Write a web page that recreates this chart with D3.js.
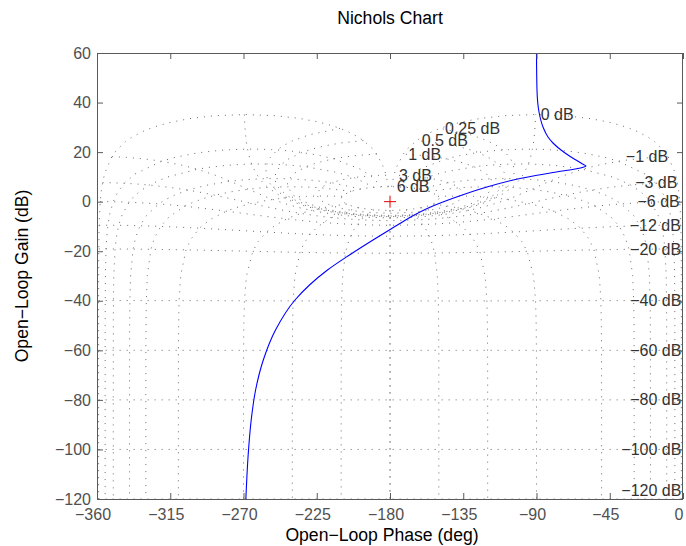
<!DOCTYPE html>
<html><head><meta charset="utf-8">
<script src="https://cdn.jsdelivr.net/npm/d3@7"></script>
<style>
body{margin:0;background:#fff}
svg{display:block}
text{font-family:"Liberation Sans",Arial,Helvetica,sans-serif}
</style>
</head><body>
<svg id="chart" width="686" height="546"></svg>
<script>
// ---- data ----
const xTicks = [-360, -315, -270, -225, -180, -135, -90, -45, 0];
const yTicks = [60, 40, 20, 0, -20, -40, -60, -80, -100, -120];
// closed-loop phase contours (deg) and the closed-loop gains they are sampled at (dB)
const isoPhaseValues = [1, 5, 10, 20, 30, 50, 90, 120, 150, 180];
const isoPhaseGains = [6, 3, 2, 1, .75, .5, .4, .3, .25, .2, .15, .1, .05, 0, -.05, -.1, -.15, -.2, -.25, -.3, -.4, -.5, -.75, -1, -2, -3, -4, -5, -6, -9, -12, -16, -20, -30, -40, -50, -60, -70, -80, -90, -100, -110, -120];
// closed-loop gain contours (dB) and the closed-loop phases they are sampled at (deg)
const isoGainValues = [6, 3, 1, .5, .25, 0, -1, -3, -6, -12, -20, -40, -60, -80, -100, -120];
const isoGainPhases = [1, 2, 3, 4, 5, 7.5, 10, 15, 20, 25, 30, 45, 60, 75, 90, 105, 120, 135, 150, 175, 180];
const labelPhase = 359;
// open-loop response (phase deg, gain dB)
const curvePhase = [-90.0, -89.7, -88.46, -86.0, -82.94, -79.87, -74.95, -70.65, -65.73, -61.74, -59.59,
  -61.43, -79.87, -100.14, -120.41, -141.30, -155.43, -168.33, -175.39, -190.44, -204.88, -218.40,
  -229.45, -238.36, -250.34, -257.84, -262.57, -265.27, -266.87, -268.55];
const curveGain = [60.0, 45.07, 36.19, 30.14, 26.10, 23.68, 20.85, 18.83, 16.82, 15.20, 14.40,
  13.91, 11.77, 9.35, 5.92, 1.36, -2.27, -6.59, -9.42, -15.47, -21.52, -27.58,
  -33.63, -39.69, -51.80, -63.91, -76.01, -88.12, -99.83, -120.0];
const criticalPoint = [-180, 0];

// ---- layout ----
const m = {left: 97, right: 683, top: 53, bottom: 499};
const svg = d3.select("#chart");
const x = d3.scaleLinear().domain([-360, 0]).range([m.left, m.right]);
const y = d3.scaleLinear().domain([-120, 60]).range([m.bottom, m.top]);
const fmt = d => d < 0 ? "\u2212" + Math.abs(d) : String(d);

svg.append("defs").append("clipPath").attr("id", "clip")
  .append("rect").attr("x", m.left).attr("y", m.top)
  .attr("width", m.right - m.left).attr("height", m.bottom - m.top);

// ---- Nichols grid: closed-loop (gain, phase) -> open-loop (phase, gain) ----
function cl2ol(gdb, pdeg) {
  const r = Math.pow(10, gdb / 20), t = pdeg * Math.PI / 180;
  const a = r * Math.cos(t), b = r * Math.sin(t);
  const d = (1 - a) * (1 - a) + b * b;
  const re = (a * (1 - a) - b * b) / d, im = b / d;
  const gain = 20 * Math.log10(Math.hypot(re, im));
  const ph = ((Math.atan2(im, re) * 180 / Math.PI) + 360) % 360;
  return [ph, gain];
}
const gridLines = [];
isoPhaseValues.forEach(p => {
  const pts = isoPhaseGains.map(g => cl2ol(g, p));
  gridLines.push(pts.map(([ph, g]) => [ph - 360, g]));
  gridLines.push(pts.map(([ph, g]) => [-ph, g]));
});
const p2full = isoGainPhases.concat(isoGainPhases.slice(0, -1).reverse().map(p => 360 - p));
isoGainValues.forEach(g => {
  gridLines.push(p2full.map(p => { const [ph, gg] = cl2ol(g, p); return [ph - 360, gg]; }));
});

const gridG = svg.append("g").attr("clip-path", "url(#clip)");
const line = d3.line().x(d => x(d[0])).y(d => y(d[1]));
gridG.selectAll("path.grid").data(gridLines).join("path")
  .attr("class", "grid")
  .attr("d", line)
  .attr("fill", "none")
  .attr("stroke", "#6a6a6a")
  .attr("stroke-width", 1)
  .attr("stroke-dasharray", "1,6");

// ---- grid labels ----
const labG = svg.append("g");
isoGainValues.forEach(g => {
  const [ph, gg] = cl2ol(g, labelPhase);
  let yy = y(gg);
  yy = Math.max(m.top + 9, Math.min(m.bottom - 9, yy));
  labG.append("text")
    .attr("x", x(ph - 360)).attr("y", yy)
    .attr("dx", g >= 0 ? 5 : 0).attr("dy", "0.35em")
    .attr("text-anchor", g >= 0 ? "start" : "end")
    .attr("font-size", 16).attr("fill", "#333")
    .text(fmt(g) + " dB");
});

// ---- response curve ----
const curve = curvePhase.map((p, i) => [p, curveGain[i]]);
svg.append("g").attr("clip-path", "url(#clip)").append("path")
  .datum(curve)
  .attr("d", d3.line().x(d => x(d[0])).y(d => y(d[1])).curve(d3.curveMonotoneY))
  .attr("fill", "none").attr("stroke", "#0000ff").attr("stroke-width", 1.1);

// critical point marker
const cx = x(criticalPoint[0]), cy = y(criticalPoint[1]);
svg.append("path").attr("d", `M${cx - 6},${cy}H${cx + 6}M${cx},${cy - 6}V${cy + 6}`)
  .attr("stroke", "#e00000").attr("stroke-width", 1);

// ---- axes ----
const axCol = "#5a5a5a", txtCol = "#505050";
const gx = svg.append("g").attr("transform", `translate(0,${m.bottom})`)
  .call(d3.axisBottom(x).tickValues(xTicks).tickFormat(fmt).tickSize(-6).tickSizeOuter(0).tickPadding(10));
const gxt = svg.append("g").attr("transform", `translate(0,${m.top})`)
  .call(d3.axisTop(x).tickValues(xTicks).tickFormat("").tickSize(-6).tickSizeOuter(0));
const gy = svg.append("g").attr("transform", `translate(${m.left},0)`)
  .call(d3.axisLeft(y).tickValues(yTicks).tickFormat(fmt).tickSize(-6).tickSizeOuter(0).tickPadding(6));
const gyr = svg.append("g").attr("transform", `translate(${m.right},0)`)
  .call(d3.axisRight(y).tickValues(yTicks).tickFormat("").tickSize(-6).tickSizeOuter(0));
[gx, gxt, gy, gyr].forEach(g => {
  g.select(".domain").remove();
  g.selectAll(".tick line").attr("stroke", axCol);
  g.selectAll(".tick text").attr("fill", txtCol).attr("font-size", 16)
    .attr("font-family", '"Liberation Sans",Arial,sans-serif');
});
gx.selectAll(".tick text").attr("dx", -4.5);
svg.append("rect").attr("x", m.left + 0.5).attr("y", m.top + 0.5)
  .attr("width", m.right - m.left - 1).attr("height", m.bottom - m.top)
  .attr("fill", "none").attr("stroke", axCol).attr("stroke-width", 1);

// ---- titles ----
const midX = (m.left + m.right) / 2;
svg.append("text").attr("x", midX).attr("y", 24)
  .attr("text-anchor", "middle").attr("font-size", 17.6).attr("fill", "#000")
  .text("Nichols Chart");
svg.append("text").attr("x", midX - 8).attr("y", 541)
  .attr("text-anchor", "middle").attr("font-size", 17.6).attr("fill", "#000")
  .text("Open\u2212Loop Phase (deg)");
svg.append("text").attr("transform", `translate(28,${(m.top + m.bottom) / 2}) rotate(-90)`)
  .attr("text-anchor", "middle").attr("font-size", 17.6).attr("fill", "#000")
  .text("Open\u2212Loop Gain (dB)");
</script>
</body></html>
